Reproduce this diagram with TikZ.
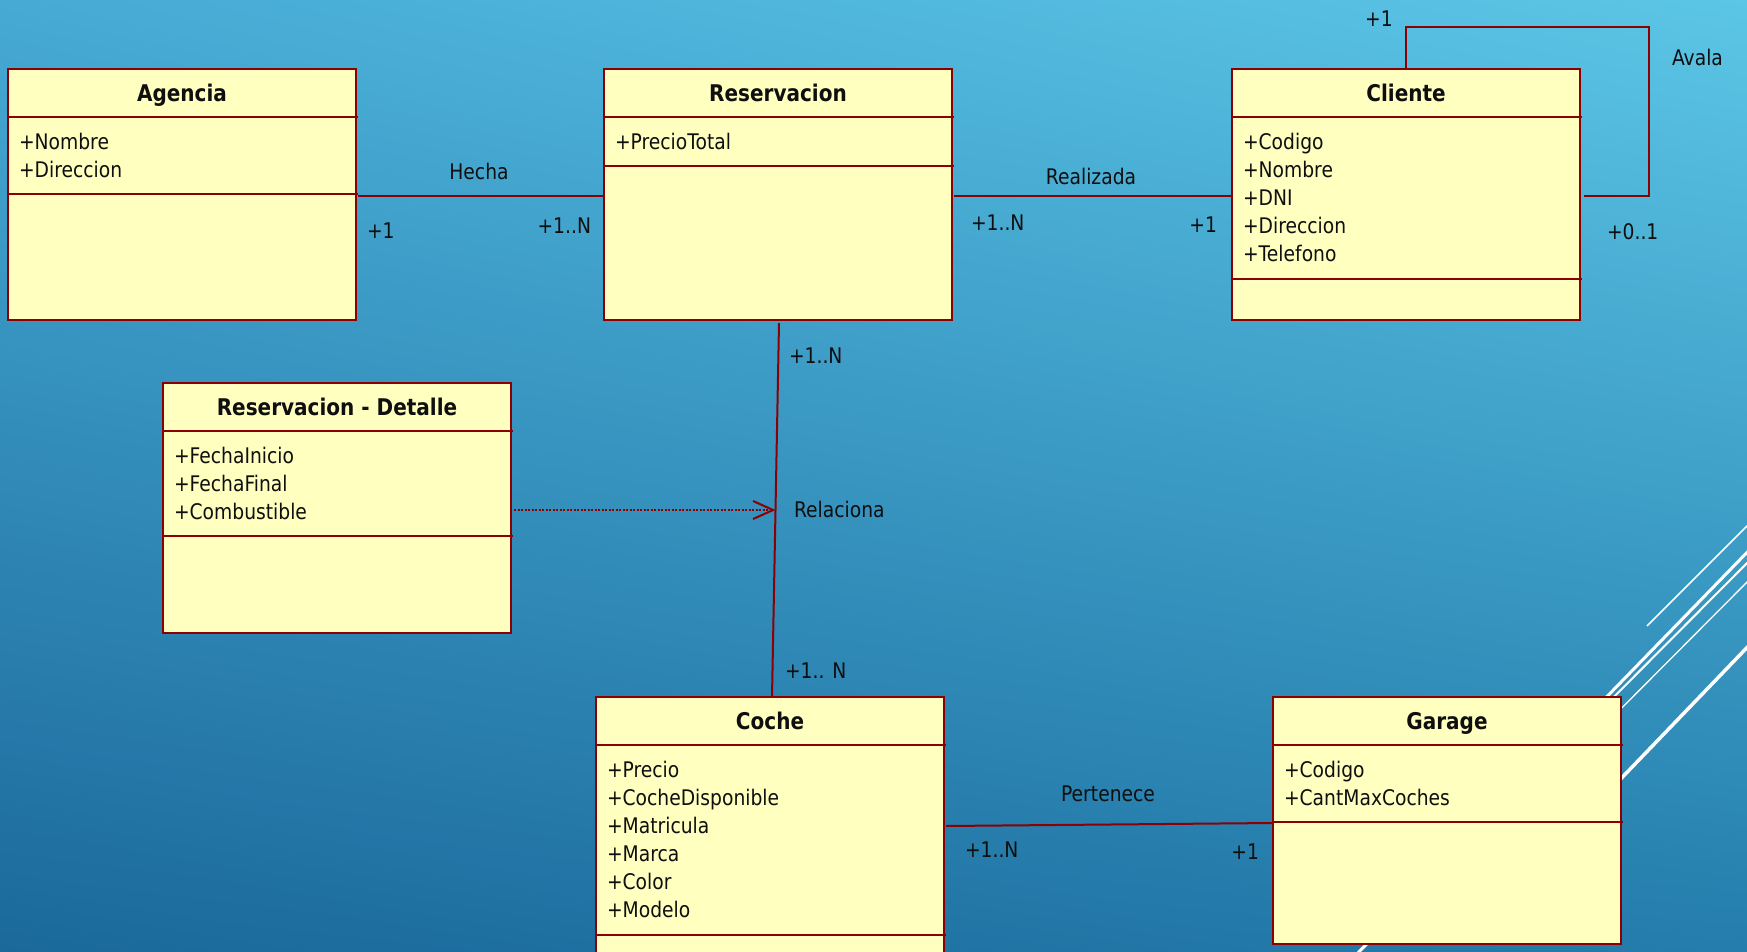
\documentclass[tikz,border=0pt]{standalone}
\usepackage{fontspec}
\setmainfont[FakeStretch=0.87]{DejaVu Sans}
\usetikzlibrary{calc,arrows.meta,shadings}
\definecolor{boxfill}{RGB}{255,255,192}
\definecolor{boxline}{RGB}{139,0,0}
\definecolor{txt}{RGB}{15,15,15}
\definecolor{bgul}{RGB}{70,170,212}
\definecolor{bgur}{RGB}{92,198,230}
\definecolor{bgll}{RGB}{27,105,155}
\definecolor{bglr}{RGB}{36,125,172}
\tikzset{
  classbox/.style={draw=boxline, fill=boxfill, line width=2.5pt, minimum width=348pt, inner sep=0pt, outer sep=0pt},
  divider/.style={draw=boxline, line width=2.5pt},
  titlefont/.style={font=\fontsize{23}{28}\selectfont\bfseries, text=txt, inner sep=0pt, outer sep=0pt},
  attrfont/.style={font=\fontsize{21.5}{28}\selectfont, text=txt, inner sep=0pt, outer sep=0pt},
  lbl/.style={font=\fontsize{21.5}{28}\selectfont, text=txt, inner sep=0pt, outer sep=0pt},
  assoc/.style={draw=boxline, line width=2pt},
  depend/.style={draw=boxline, line width=2pt, dash pattern=on 2pt off 1.5pt, -{Straight Barb[length=20pt,width=18pt,line width=2pt]}},
  deco/.style={draw=white},
}
% name, x, y, height, title, attribute compartment height, attributes
\newcommand{\umlclass}[7]{%
  \node[classbox, minimum height=#4pt, anchor=north west] (#1) at (#2,#3) {};
  \node[titlefont, anchor=base] (#1-title) at ($(#1.north)+(0,32.5)$) {#5};
  \draw[divider] ($(#1.north west)+(0,48)$) -- ($(#1.north east)+(2,48)$);
  \draw[divider] ($(#1.north west)+(0,48+#6)$) -- ($(#1.north east)+(2,48+#6)$);
  \foreach \a [count=\i from 0] in {#7} {
    \node[attrfont, anchor=base west] (#1-attr\i) at ($(#1.north west)+(11,80.5+28*\i)$) {\a};
  }
}
\begin{document}
\begin{tikzpicture}[x=1pt,y=-1pt]
\useasboundingbox (0,0) rectangle (1747,951);
\clip (0,0) rectangle (1747,951);
\shade[upper left=bgul, upper right=bgur, lower left=bgll, lower right=bglr] (0,0) rectangle (1747,951);
% decorative lines
\draw[deco, line width=1.5pt] (1647,626) -- (1760,513);
\draw[deco, line width=3pt] (1353,958) -- (1760,539);
\draw[deco, line width=2pt] (1560,751) -- (1760,550);
\draw[deco, line width=1.3pt] (1560,770) -- (1760,569);
\draw[deco, line width=3.5pt] (1560,842) -- (1760,634);
% classes
\umlclass{agencia}{8}{69}{251}{Agencia}{77}{+Nombre,+Direccion}
\umlclass{reservacion}{604}{69}{251}{Reservacion}{49}{+PrecioTotal}
\umlclass{cliente}{1232}{69}{251}{Cliente}{162}{+Codigo,+Nombre,+DNI,+Direccion,+Telefono}
\umlclass{detalle}{163}{383}{250}{Reservacion - Detalle}{105}{+FechaInicio,+FechaFinal,+Combustible}
\umlclass{coche}{596}{697}{270}{Coche}{190}{+Precio,+CocheDisponible,+Matricula,+Marca,+Color,+Modelo}
\umlclass{garage}{1273}{697}{247}{Garage}{77}{+Codigo,+CantMaxCoches}
% Hecha
\draw[assoc] ($(agencia.north east)+(2,127)$) -- ($(reservacion.north west)+(0,127)$);
\node[lbl, anchor=base] (hecha) at (479,179) {Hecha};
\node[lbl, anchor=base west] (hecha-m1) at (367,238) {+1};
\node[lbl, anchor=base east] (hecha-m2) at (591,233) {+1..N};
% Realizada
\draw[assoc] ($(reservacion.north east)+(2,127)$) -- ($(cliente.north west)+(0,127)$);
\node[lbl, anchor=base] (realizada) at (1091,184) {Realizada};
\node[lbl, anchor=base west] (real-m1) at (971,230) {+1..N};
\node[lbl, anchor=base east] (real-m2) at (1217,232) {+1};
% Avala (self association)
\draw[assoc] (cliente.north) -- ++(0,-42) -| ($(cliente.north east)+(69,127)$) -- ($(cliente.north east)+(4,127)$);
\node[lbl, anchor=base] (avala-m1) at (1379,26) {+1};
\node[lbl, anchor=base west] (avala) at (1672,65) {Avala};
\node[lbl, anchor=base west] (avala-m2) at (1607,239) {+0..1};
% Relaciona
\coordinate (rtop) at ($(reservacion.south)+(1,3)$);
\coordinate (cbot) at ($(coche.north)+(2,0)$);
\draw[assoc] (rtop) -- (cbot);
\coordinate (relmid) at ($(rtop)!0.5!(cbot)$);
\draw[depend] ($(detalle.east |- relmid)+(3,0)$) -- (relmid);
\node[lbl, anchor=base west] (rel-m1) at (789,363) {+1..N};
\node[lbl, anchor=base west] (relaciona) at (794,517) {Relaciona};
\node[lbl, anchor=base west] (rel-m2) at (785,678) {+1.. N};
% Pertenece
\draw[assoc] ($(coche.north east)+(2,129)$) -- ($(garage.north west)+(0,126)$);
\node[lbl, anchor=base] (pertenece) at (1108,801) {Pertenece};
\node[lbl, anchor=base west] (pert-m1) at (965,857) {+1..N};
\node[lbl, anchor=base east] (pert-m2) at (1259,859) {+1};
\end{tikzpicture}
\end{document}
